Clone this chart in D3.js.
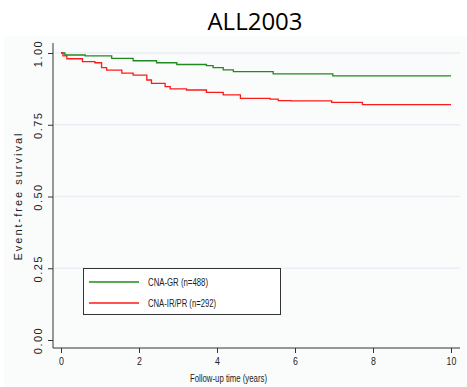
<!DOCTYPE html>
<html>
<head>
<meta charset="utf-8">
<script src="https://cdn.jsdelivr.net/npm/d3@7"></script>
<style>
  body { margin: 0; background: #fff; }
  svg text { fill: #222; }
</style>
</head>
<body>
<svg width="467" height="387"></svg>
<script>
// data (step functions, value after each time)
var grTimes = [0, 0.1, 0.62, 1.3, 1.85, 2.45, 2.97, 3.73, 3.9, 4.16, 4.42, 5.44, 6.97, 10];
var grSurv  = [1.0, 0.993, 0.99, 0.981, 0.973, 0.966, 0.96, 0.956, 0.949, 0.941, 0.935, 0.927, 0.92, 0.92];

var irTimes = [0, 0.05, 0.15, 0.55, 0.87, 1.04, 1.17, 1.56, 1.85, 2.2, 2.32, 2.67, 2.8, 3.22, 3.73, 4.16, 4.6, 5.36, 5.57, 5.9, 6.94, 7.73, 10];
var irSurv  = [1.0, 0.99, 0.98, 0.97, 0.966, 0.949, 0.94, 0.93, 0.923, 0.906, 0.894, 0.883, 0.875, 0.871, 0.863, 0.854, 0.842, 0.839, 0.834, 0.833, 0.828, 0.82, 0.82];

var xTicks = [0, 2, 4, 6, 8, 10];
var yTicks = [0, 0.25, 0.5, 0.75, 1];
var seriesNames = ["CNA-GR  (n=488)", "CNA-IR/PR (n=292)"];
var seriesColors = ["#1f8a1f", "#ff1a1a"];

var svg = d3.select("svg");
var font = "'Liberation Sans', Arial, sans-serif";

// background of the graph region
svg.append("rect").attr("x", 4).attr("y", 36).attr("width", 463).attr("height", 351)
  .attr("fill", "#fafcfc");

svg.append("text").attr("x", 255).attr("y", 30)
  .attr("text-anchor", "middle")
  .style("font-family", "'Open Sans', Calibri, sans-serif")
  .style("font-size", "24px")
  .style("fill", "#000")
  .text("ALL2003");

var x = d3.scaleLinear().domain([0, 10]).range([61, 451]);
var y = d3.scaleLinear().domain([0, 1]).range([340, 53]);

// grid lines
svg.append("g").selectAll("line")
  .data(yTicks.filter(function(d) { return d > 0; }))
  .enter().append("line")
    .attr("x1", 54).attr("x2", 460)
    .attr("y1", function(d) { return y(d); })
    .attr("y2", function(d) { return y(d); })
    .attr("stroke", "#e8eef6").attr("stroke-width", 1.5);

// axes
var yAxis = svg.append("g").attr("transform", "translate(53,0)")
  .call(d3.axisLeft(y).tickValues(yTicks).tickFormat(d3.format(".2f")).tickSize(5));
yAxis.select(".domain").attr("d", "M0,43V348");
yAxis.selectAll(".tick text")
  .attr("transform", "rotate(-90)")
  .attr("x", 0).attr("y", -11).attr("dy", 0)
  .attr("text-anchor", "middle")
  .style("font-family", font).style("font-size", "11px").style("letter-spacing", "1.5px");

var xAxis = svg.append("g").attr("transform", "translate(0,348)")
  .call(d3.axisBottom(x).tickValues(xTicks).tickFormat(d3.format("d")).tickSize(5).tickPadding(4));
xAxis.select(".domain").attr("d", "M53,0H460");
xAxis.selectAll(".tick text").style("font-family", font).style("font-size", "11px")
  .attr("transform", "scale(0.8,1)");

svg.selectAll(".domain, .tick line").attr("stroke", "#333");

svg.append("text")
  .attr("transform", "translate(22,196) rotate(-90)")
  .attr("text-anchor", "middle")
  .style("font-family", font).style("font-size", "11px").style("letter-spacing", "2px")
  .text("Event-free survival");

svg.append("text").attr("x", 190).attr("y", 382)
  .attr("textLength", 77).attr("lengthAdjust", "spacingAndGlyphs")
  .style("font-family", font).style("font-size", "11px")
  .text("Follow-up time (years)");

// curves
var line = d3.line()
  .x(function(d) { return x(d[0]); })
  .y(function(d) { return y(d[1]); })
  .curve(d3.curveStepAfter);

var series = [d3.zip(grTimes, grSurv), d3.zip(irTimes, irSurv)];
svg.append("g").selectAll("path")
  .data(series)
  .enter().append("path")
    .attr("d", line)
    .attr("fill", "none")
    .attr("stroke", function(d, i) { return seriesColors[i]; })
    .attr("stroke-width", 1.3);

// legend
var leg = svg.append("g");
leg.append("rect").attr("x", 83.5).attr("y", 268.5).attr("width", 197).attr("height", 46)
  .attr("fill", "#fff").attr("stroke", "#333");
var items = leg.selectAll("g.item")
  .data(seriesNames)
  .enter().append("g").attr("class", "item")
    .attr("transform", function(d, i) { return "translate(0," + (282 + i * 21) + ")"; });
items.append("line").attr("x1", 89).attr("x2", 139)
  .attr("stroke", function(d, i) { return seriesColors[i]; }).attr("stroke-width", 1.3);
items.append("text").attr("x", 148).attr("dy", "0.35em")
  .attr("textLength", function(d, i) { return i ? 68 : 60; })
  .attr("lengthAdjust", "spacingAndGlyphs")
  .style("font-family", font).style("font-size", "11px")
  .text(function(d) { return d; });
</script>
</body>
</html>
